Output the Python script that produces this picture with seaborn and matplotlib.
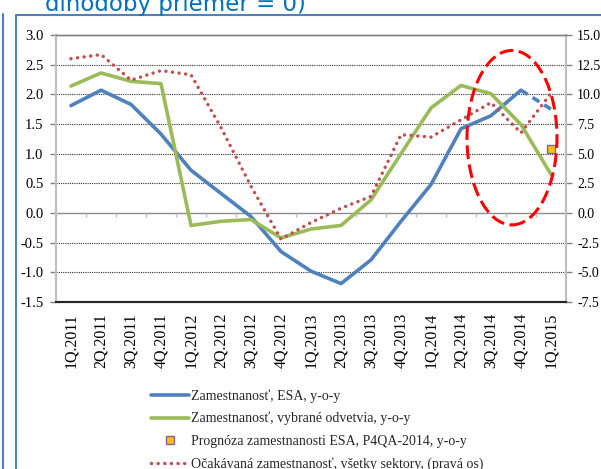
import numpy as np
import pandas as pd
import seaborn as sns
import matplotlib.pyplot as plt
from matplotlib.patches import Ellipse
from matplotlib.lines import Line2D

# data
quarters = ['1Q.2011', '2Q.2011', '3Q.2011', '4Q.2011',
            '1Q.2012', '2Q.2012', '3Q.2012', '4Q.2012',
            '1Q.2013', '2Q.2013', '3Q.2013', '4Q.2013',
            '1Q.2014', '2Q.2014', '3Q.2014', '4Q.2014', '1Q.2015']
esa = [1.81, 2.07, 1.83, 1.33, 0.72, 0.33, -0.06, -0.65, -0.98, -1.19,
       -0.79, -0.14, 0.48, 1.42, 1.64, 2.07, 1.75]
odvetvia = [2.14, 2.36, 2.22, 2.18, -0.21, -0.14, -0.11, -0.42, -0.27, -0.21,
            0.22, 1.00, 1.77, 2.15, 2.01, 1.49, 0.65]
ocakavana = [13.0, 13.35, 11.2, 12.0, 11.65, 7.2, 2.25, -2.2, -0.8, 0.4,
             1.4, 6.6, 6.4, 7.85, 9.3, 6.75, 10.1]
prognoza_q = ['1Q.2015']
prognoza = [1.08]

left_ticks = [-1.5, -1.0, -0.5, 0.0, 0.5, 1.0, 1.5, 2.0, 2.5, 3.0]
right_ticks = [-7.5, -5.0, -2.5, 0.0, 2.5, 5.0, 7.5, 10.0, 12.5, 15.0]

blue = '#4F81BD'
green = '#9BBB59'
red = '#C0504D'

sns.set_theme(style='white')
plt.rcParams['font.family'] = ['Liberation Serif', 'DejaVu Serif']

df = pd.DataFrame({'x': np.arange(len(quarters)), 'esa': esa,
                   'odvetvia': odvetvia, 'ocakavana': ocakavana})
pos = {q: i for i, q in enumerate(quarters)}

fig = plt.figure(figsize=(6.01, 4.69), dpi=100)
ax = fig.add_axes([56 / 601, 1 - 302 / 469, 510 / 601, 267 / 469])
ax2 = ax.twinx()

# left axis series
sns.lineplot(data=df.iloc[:16], x='x', y='esa', ax=ax, color=blue, lw=2.6)
sns.lineplot(data=df.iloc[15:], x='x', y='esa', ax=ax, color=blue, lw=2.6,
             linestyle=(0, (2.2, 1.6)))
sns.lineplot(data=df, x='x', y='odvetvia', ax=ax, color=green, lw=2.6)
sns.scatterplot(x=[pos[q] for q in prognoza_q], y=prognoza, ax=ax, marker='s',
                s=40, color='#FFC000', edgecolor='#8064A2', linewidth=1.0, zorder=5)

# right axis series
sns.lineplot(data=df, x='x', y='ocakavana', ax=ax2, color=red, lw=2.5,
             linestyle=(0, (0.01, 1.9)), dash_capstyle='round')
ax2.add_patch(Ellipse((14.7, 6.35), width=3.0, height=14.7, fill=False,
                      edgecolor='#FF0000', lw=2.2, linestyle=(0, (4.5, 1.8)), zorder=6))

# axes formatting
ax.set_xlim(-0.5, len(quarters) - 0.5)
ax.set_ylim(-1.5, 3.0)
ax2.set_ylim(-7.5, 15.0)
ax.set_yticks(left_ticks)
ax.set_yticklabels(['{:.1f}'.format(v) for v in left_ticks])
ax2.set_yticks(right_ticks)
ax2.set_yticklabels(['{:.1f}'.format(v) for v in right_ticks])
ax.set_xticks(np.arange(len(quarters)))
ax.set_xticklabels(quarters, rotation=90, fontsize=11.5)
ax.set_xlabel('')
ax.set_ylabel('')
ax2.set_ylabel('')

for g in left_ticks[1:-1]:
    if g != 0.0:
        ax.axhline(g, color='#303030', lw=0.8, linestyle=(0, (1, 1)), zorder=0)
ax.axhline(0.0, color='#8C8C8C', lw=1.0, zorder=0)
ax.vlines(np.arange(-0.5, len(quarters)), -0.07, 0.0, color='#BFBFBF', lw=1.0, zorder=0)

for a in (ax, ax2):
    a.spines['left'].set_color('#BFBFBF')
    a.spines['right'].set_color('#BFBFBF')
    a.spines['left'].set_linewidth(1.5)
    a.spines['right'].set_linewidth(1.5)
    a.spines['top'].set_color('#808080')
    a.spines['top'].set_linewidth(1.0)
    a.spines['bottom'].set_color('#262626')
    a.spines['bottom'].set_linewidth(1.5)
    a.grid(False)

ax.tick_params(axis='y', left=True, length=4, width=1, color='#808080',
               pad=5, labelsize=10.5, labelcolor='black')
ax.tick_params(axis='x', bottom=False, length=0, pad=8, labelcolor='black')
ax2.tick_params(axis='y', right=True, length=4, width=1, color='#808080',
                pad=4, labelsize=10, labelcolor='black')

# legend below the plot
handles = [
    Line2D([], [], color=blue, lw=2.6),
    Line2D([], [], color=green, lw=2.6),
    Line2D([], [], color='none', marker='s', markersize=6,
           markerfacecolor='#FFC000', markeredgecolor='#8064A2'),
    Line2D([], [], color=red, lw=2.5, linestyle=(0, (0.01, 1.9)),
           dash_capstyle='round'),
]
labels = [
    'Zamestnanosť, ESA, y-o-y',
    'Zamestnanosť, vybrané odvetvia, y-o-y',
    'Prognóza zamestnanosti ESA, P4QA-2014, y-o-y',
    'Očakávaná zamestnanosť, všetky sektory, (pravá os)',
]
fig.legend(handles, labels, loc='upper left', bbox_to_anchor=(151 / 601, 1 - 389 / 469),
           frameon=False, fontsize=10, handlelength=2.75, handletextpad=0.12,
           labelspacing=0.68, borderaxespad=0, borderpad=0)

# frame lines and the cut-off heading from the slide
fig.add_artist(Line2D([3 / 601, 3 / 601], [0, 1 - 14 / 469], color='#4F81BD', lw=1.5))
fig.add_artist(Line2D([16 / 601, 16 / 601, 1.0], [0, 1 - 15 / 469, 1 - 15 / 469],
                      color='#4F81BD', lw=1.5))
fig.text(45 / 601, 1 - 11 / 469, 'dlhodobý priemer = 0)', color='#0070C0',
         fontsize=16.5, family=['DejaVu Sans'], va='baseline', ha='left')

fig.savefig('out.png', dpi=100)
